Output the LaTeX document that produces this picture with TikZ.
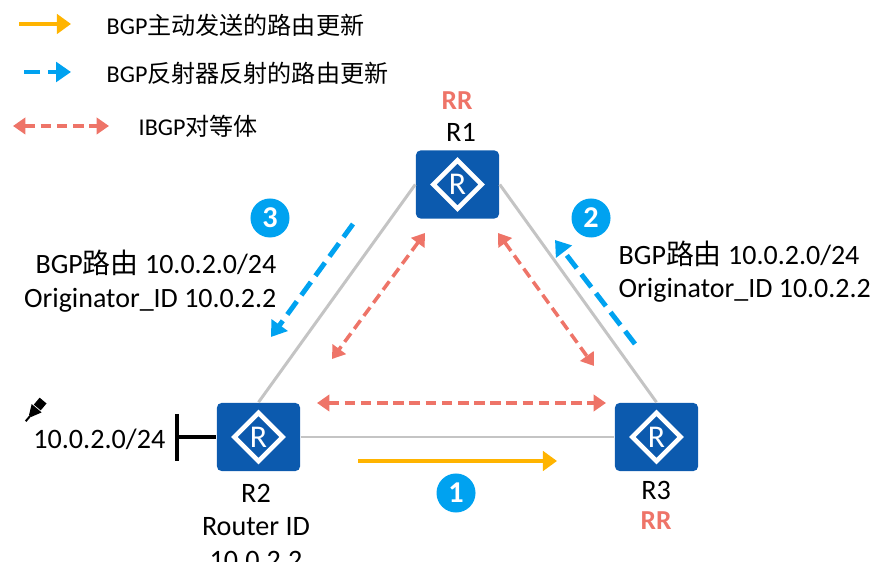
\documentclass[tikz,border=0pt]{standalone}
\usepackage{fontspec}
\setmainfont{Carlito}
\newfontfamily\cjk{Noto Sans CJK SC}
\usetikzlibrary{arrows.meta,shapes.geometric}

\definecolor{pushcolor}{HTML}{FFB400}
\definecolor{reflectcolor}{HTML}{00A2F0}
\definecolor{peercolor}{HTML}{EE7468}
\definecolor{routercolor}{HTML}{0C5AAE}
\definecolor{linkcolor}{HTML}{C4C4C4}

\tikzset{
  routerbox/.style={fill=routercolor, rounded corners=1.3pt, minimum width=0.83cm, minimum height=0.68cm, inner sep=0pt},
  routermark/.style={diamond, draw=white, line width=1.3pt, minimum width=0.5cm, minimum height=0.5cm, inner sep=0pt,
    text=white, font=\fontsize{9}{9}\selectfont},
  link/.style={draw=linkcolor, line width=0.85pt},
  pusharrow/.style={draw=pushcolor, line width=1.25pt, -{Triangle[length=4pt,width=5.5pt]}},
  reflectarrow/.style={draw=reflectcolor, line width=1.4pt, dash pattern=on 4.6pt off 2.2pt, -{Triangle[length=4.2pt,width=5.5pt]}},
  peerarrow/.style={draw=peercolor, line width=1pt, dash pattern=on 3pt off 1.6pt, {Triangle[length=3.5pt,width=4.6pt]}-{Triangle[length=3.5pt,width=4.6pt]}},
  step num/.style={circle, fill=reflectcolor, text=white, minimum size=0.39cm, inner sep=0pt, font=\fontsize{8.6}{9}\bfseries\selectfont},
  legend/.style={anchor=west, inner sep=0pt, font=\fontsize{6.85}{8}\selectfont},
  lbl/.style={inner sep=0pt, font=\fontsize{8}{9}\selectfont},
  routelbl/.style={inner sep=0pt, font=\fontsize{7.95}{9.6}\selectfont},
  rr/.style={inner sep=0pt, text=peercolor, font=\fontsize{7.8}{9}\bfseries\selectfont}
}

\begin{document}
\begin{tikzpicture}[x=0.01cm, y=-0.01cm]
\useasboundingbox (0, 0) rectangle (877, 562);
\clip (0, 0) rectangle (877, 562);

% routers
\node[routerbox] (r1) at (457.5, 184.5) {};
\node[routerbox] (r2) at (258.5, 437) {};
\node[routerbox] (r3) at (656.5, 437) {};
\node[routermark] (r1m) at (r1) {R};
\node[routermark] (r2m) at (r2) {R};
\node[routermark] (r3m) at (r3) {R};

\draw[link] (r1.west)--(r2.north);
\draw[link] (r1.east)--(r3.north);
\draw[link] (r2.east)--(r3.west);

% router labels
\node[rr] (r1rr) at (457, 101) {RR};
\node[lbl] (r1lbl) at (461, 132) {R1};
\node[lbl] (r2lbl) at (256, 493) {R2};
\node[lbl] (r2id) at (256, 527) {Router ID};
\node[lbl] (r2addr) at (256, 560) {10.0.2.2};
\node[lbl] (r3lbl) at (656, 490) {R3};
\node[rr] (r3rr) at (656, 521) {RR};

% stub network
\coordinate (stubtop) at (177, 414);
\coordinate (stubbot) at (177, 461);
\coordinate (stubmid) at (177, 437);
\draw[line width=1pt] (stubtop)--(stubbot);
\draw[line width=1pt] (stubmid)--(r2.west);
\node[lbl, anchor=east] (stubaddr) at (166, 439) {10.0.2.0/24};
\begin{scope}[shift={(36, 409)}, rotate=-40]
\fill (-4.5, -11) rectangle (4.5, -2);
\fill (-6.5, -1)--(6.5, -1)--(1.5, 9)--(-1.5, 9)--cycle;
\fill (-1, 9) rectangle (1, 16);
\end{scope}

% legend
\coordinate (pusha) at (19, 24);
\coordinate (pushb) at (71, 24);
\coordinate (reflecta) at (24, 72);
\coordinate (reflectb) at (71, 72);
\coordinate (peera) at (13, 126);
\coordinate (peerb) at (109, 126);
\draw[pusharrow] (pusha)--(pushb);
\draw[reflectarrow] (reflecta)--(reflectb);
\draw[peerarrow] (peera)--(peerb);
\node[legend] (leg1) at (106, 25) {BGP{\cjk 主动发送的路由更新}};
\node[legend] (leg2) at (106, 73) {BGP{\cjk 反射器反射的路由更新}};
\node[legend] (leg3) at (138, 126) {IBGP{\cjk 对等体}};

% peerings
\coordinate (p1a) at (425, 233);
\coordinate (p1b) at (332, 359);
\coordinate (p2a) at (498, 233);
\coordinate (p2b) at (594, 366);
\coordinate (p3a) at (317, 403);
\coordinate (p3b) at (606, 403);
\draw[peerarrow] (p1a)--(p1b);
\draw[peerarrow] (p2a)--(p2b);
\draw[peerarrow] (p3a)--(p3b);

% updates
\coordinate (u1a) at (358, 461);
\coordinate (u1b) at (557, 461);
\coordinate (u2a) at (635, 344);
\coordinate (u2b) at (555, 240);
\coordinate (u3a) at (353, 224);
\coordinate (u3b) at (271, 337);
\draw[pusharrow] (u1a)--(u1b);
\draw[reflectarrow] (u2a)--(u2b);
\draw[reflectarrow] (u3a)--(u3b);
\node[step num] (n1) at (456, 493) {1};
\node[step num] (n2) at (591, 218) {2};
\node[step num] (n3) at (270, 218) {3};

% route text
\node[routelbl, anchor=east] (t3a) at (277, 263) {BGP{\cjk 路由} 10.0.2.0/24};
\node[routelbl, anchor=east] (t3b) at (277, 300) {Originator\_ID 10.0.2.2};
\node[routelbl, anchor=west] (t2a) at (618, 254) {BGP{\cjk 路由} 10.0.2.0/24};
\node[routelbl, anchor=west] (t2b) at (618, 290) {Originator\_ID 10.0.2.2};
\end{tikzpicture}
\end{document}
